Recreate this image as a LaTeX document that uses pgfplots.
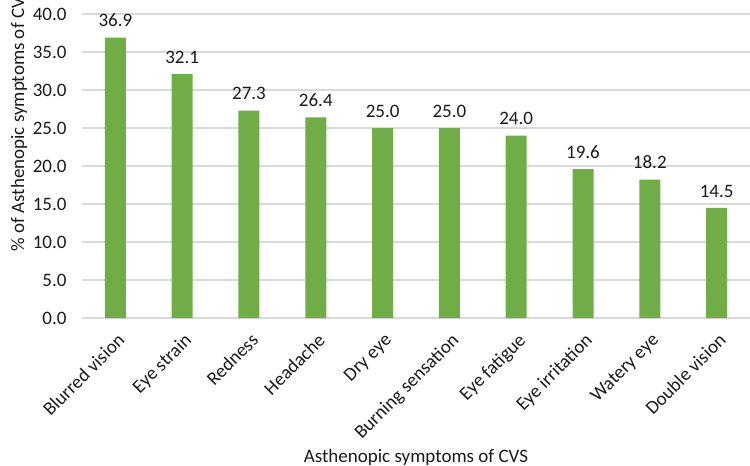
\documentclass[border=0pt]{standalone}
\usepackage{pgfplots}
\pgfplotsset{compat=1.18}
\usepackage{fontspec}
\setmainfont{Carlito}
\definecolor{bargreen}{HTML}{70AD47}
\definecolor{gridgray}{HTML}{D9D9D9}
\definecolor{txt}{HTML}{1A1A1A}
\begin{document}
\begin{tikzpicture}
\begin{axis}[
  scale only axis,
  width=668pt, height=304pt,
  ymin=0, ymax=40,
  xmin=-0.5, xmax=9.5,
  ytick={0,5,...,40},
  xtick=data,
  xticklabels={Blurred vision,Eye strain,Redness,Headache,Dry eye,Burning sensation,Eye fatigue,Eye irritation,Watery eye,Double vision},
  ymajorgrids,
  grid style={gridgray, line width=1.2pt},
  axis line style={draw=none},
  major tick length=0pt,
  font=\fontsize{19}{23}\selectfont,
  every tick label/.append style={text=txt},
  /pgf/number format/assume math mode=true,
  yticklabel={\pgfmathprintnumber[fixed,fixed zerofill,precision=1]{\tick}},
  yticklabel style={anchor=east, xshift=-12pt},
  xticklabel style={xshift=1pt, yshift=-14pt, rotate=45, anchor=north east, inner sep=0pt},
  ylabel={\% of Asthenopic symptoms of CVS},
  ylabel style={at={(rel axis cs:-0.0943,0.65)}, anchor=center, rotate=0, text=txt},
  xlabel={Asthenopic symptoms of CVS},
  xlabel style={at={(rel axis cs:0.5,0)}, anchor=center, yshift=-139pt, text=txt},
  nodes near coords,
  nodes near coords style={text=txt, yshift=7pt, /pgf/number format/.cd, fixed, fixed zerofill, precision=1, assume math mode=true},
]
\addplot[ybar, bar width=21pt, fill=bargreen, draw=none] coordinates {
(0,36.9) (1,32.1) (2,27.3) (3,26.4) (4,25.0) (5,25.0) (6,24.0) (7,19.6) (8,18.2) (9,14.5)
};
\end{axis}
\pgfresetboundingbox
\path (-82pt,-148pt) rectangle (668pt,318pt);
\end{tikzpicture}
\end{document}
